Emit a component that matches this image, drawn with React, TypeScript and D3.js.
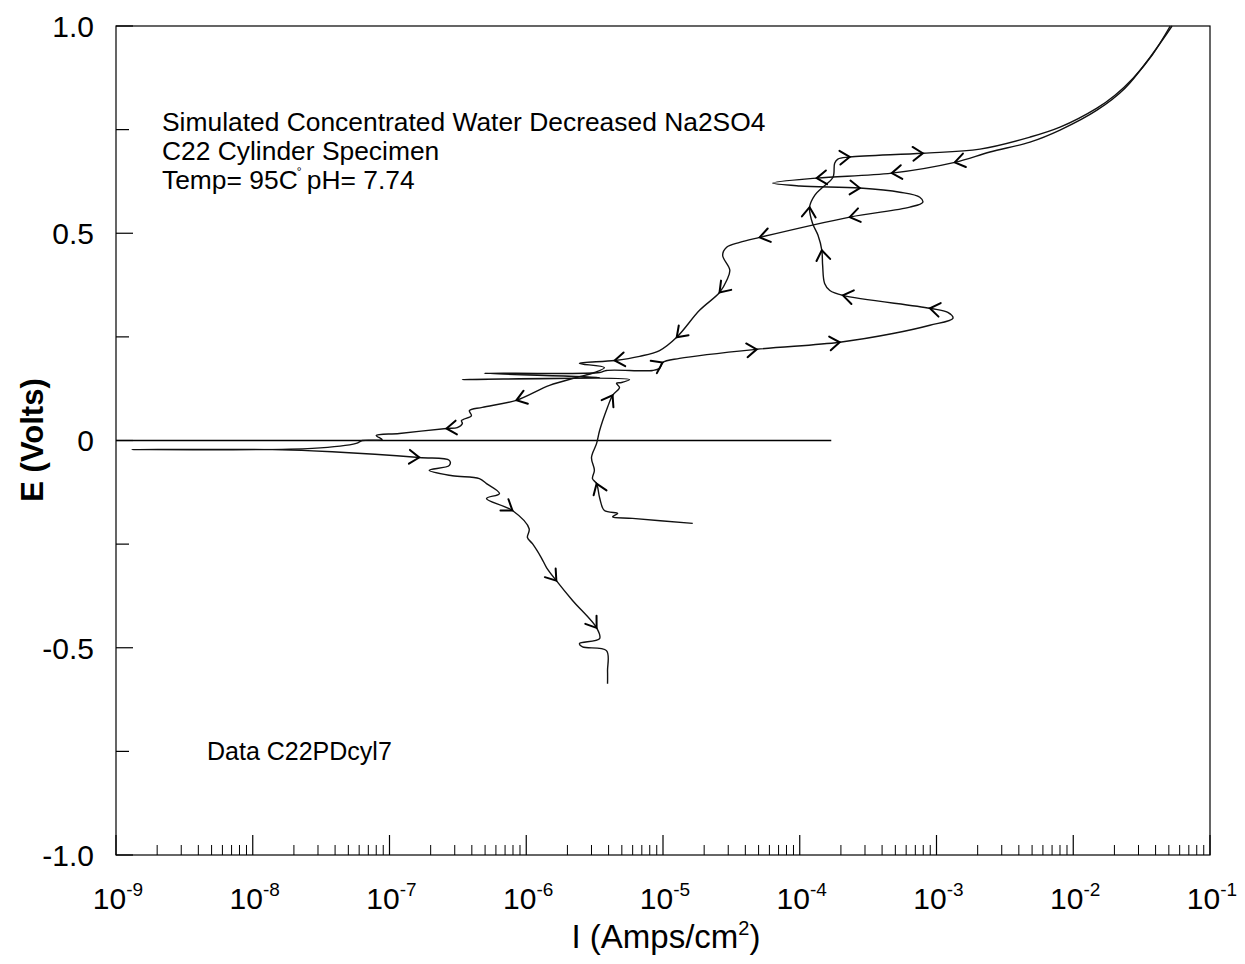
import React from "react";
import * as d3 from "d3";

// ---- data (I in A/cm^2, E in V) ----
const FWD_I = [1.65e-5, 5.98e-6, 4.28e-6, 4.66e-6, 3.73e-6, 3.44e-6, 3.27e-6, 3.05e-6, 3.15e-6, 3.0e-6, 3.27e-6, 3.44e-6, 3.93e-6, 4.28e-6, 4.81e-6, 4.57e-6, 4.98e-6, 5.69e-6, 3.41e-7, 3.44e-6, 4.94e-7, 3.44e-6, 3.86e-6, 8.4e-6, 9.44e-6, 9.93e-6, 1.32e-5, 4.84e-5, 1.96e-4, 4.8e-4, 8.95e-4, 1.32e-3, 1.21e-3, 8.95e-4, 2.07e-4, 1.66e-4, 1.52e-4, 1.47e-4, 1.45e-4, 1.36e-4, 1.24e-4, 1.18e-4, 1.29e-4, 1.45e-4, 1.75e-4, 1.8e-4, 1.9e-4, 2.32e-4, 7.94e-4, 2.08e-3, 4.83e-3, 8.0e-3, 1.49e-2, 2.02e-2, 2.74e-2, 3.78e-2, 5.12e-2];
const FWD_E = [-0.2, -0.188, -0.184, -0.176, -0.169, -0.138, -0.104, -0.092, -0.072, -0.041, -0.007, 0.024, 0.08, 0.109, 0.128, 0.138, 0.14, 0.147, 0.147, 0.152, 0.162, 0.164, 0.169, 0.169, 0.174, 0.188, 0.198, 0.22, 0.237, 0.258, 0.278, 0.295, 0.309, 0.319, 0.35, 0.362, 0.379, 0.423, 0.459, 0.495, 0.524, 0.563, 0.592, 0.609, 0.635, 0.669, 0.679, 0.684, 0.693, 0.703, 0.732, 0.756, 0.802, 0.833, 0.874, 0.93, 1.0];
const REV_I = [5.28e-2, 3.65e-2, 2.39e-2, 1.49e-2, 8.0e-3, 4.83e-3, 2.46e-3, 1.36e-3, 4.71e-4, 1.33e-4, 6.34e-5, 1.0e-4, 2.75e-4, 5.4e-4, 7.55e-4, 7.94e-4, 6.38e-4, 2.32e-4, 5.09e-5, 3.64e-5, 2.92e-5, 2.73e-5, 3.08e-5, 2.92e-5, 2.59e-5, 1.85e-5, 1.26e-5, 9.44e-6, 6.75e-6, 4.43e-6, 2.45e-6, 3.73e-6, 3.15e-6, 2.33e-6, 1.48e-6, 8.47e-7, 4.77e-7, 3.84e-7, 3.97e-7, 3.36e-7, 3.41e-7, 3.13e-7, 2.61e-7, 1.18e-7, 8.0e-8, 8.85e-8, 6.32e-8, 5.71e-8, 2.72e-8, 1.31e-9, 1.39e-8, 3.81e-8, 1.65e-7, 2.74e-7, 2.74e-7, 1.95e-7, 2.88e-7, 4.54e-7, 5.12e-7, 6.37e-7, 5.12e-7, 7.93e-7, 1.05e-6, 1.02e-6, 1.11e-6, 1.29e-6, 1.41e-6, 1.66e-6, 2.18e-6, 3.27e-6, 3.44e-6, 2.45e-6, 2.58e-6, 3.86e-6, 3.93e-6, 3.93e-6];
const REV_E = [1.0, 0.925, 0.85, 0.797, 0.749, 0.72, 0.696, 0.671, 0.645, 0.633, 0.621, 0.614, 0.609, 0.599, 0.587, 0.575, 0.563, 0.539, 0.49, 0.478, 0.466, 0.447, 0.411, 0.386, 0.357, 0.314, 0.249, 0.217, 0.203, 0.193, 0.186, 0.176, 0.164, 0.152, 0.133, 0.097, 0.08, 0.072, 0.06, 0.048, 0.041, 0.031, 0.029, 0.017, 0.012, 0.002, 0.0, -0.007, -0.019, -0.022, -0.022, -0.027, -0.041, -0.048, -0.06, -0.072, -0.085, -0.092, -0.104, -0.128, -0.14, -0.169, -0.213, -0.234, -0.249, -0.283, -0.307, -0.338, -0.386, -0.452, -0.478, -0.49, -0.498, -0.507, -0.556, -0.587];
// indices of points carrying a direction chevron
const FWD_ARROWS = [6, 13, 25, 27, 28, 33, 34, 38, 41, 47, 48];
const REV_ARROWS = [7, 8, 9, 12, 17, 18, 24, 26, 29, 35, 42, 52, 61, 67, 69];

const ZERO_LINE_END = 1.7e-4;
const X_DECADES = [-9, -8, -7, -6, -5, -4, -3, -2, -1];
const Y_TICKS = [-1, -0.75, -0.5, -0.25, 0, 0.25, 0.5, 0.75, 1];
const Y_LABELS: Record<string, string> = { "-1": "-1.0", "-0.5": "-0.5", "0": "0", "0.5": "0.5", "1": "1.0" };
const NOTE_LINES = ["Simulated Concentrated Water Decreased Na2SO4", "C22 Cylinder Specimen"];
const DATA_NOTE = "Data C22PDcyl7";

const W = 1245;
const H = 964;
const FONT = "Arial, 'Liberation Sans', Helvetica, sans-serif";

export default function App() {
  const x = d3.scaleLog().domain([1e-9, 1e-1]).range([116, 1210]);
  const y = d3.scaleLinear().domain([-1, 1]).range([855, 26]);
  const line = d3
    .line<[number, number]>()
    .x((d) => x(d[0]))
    .y((d) => y(d[1]))
    .curve(d3.curveCatmullRom.alpha(0.5));

  const fwd: [number, number][] = FWD_I.map((v, i) => [v, FWD_E[i]]);
  const rev: [number, number][] = REV_I.map((v, i) => [v, REV_E[i]]);

  const chevron = (pts: [number, number][], k: number) => {
    const p = pts[k];
    const a = pts[Math.max(0, k - 1)];
    const b = pts[Math.min(pts.length - 1, k + 1)];
    const px = x(p[0]), py = y(p[1]);
    let dx = x(b[0]) - x(a[0]);
    let dy = y(b[1]) - y(a[1]);
    const len = Math.hypot(dx, dy) || 1;
    dx /= len; dy /= len;
    const L = 12, ang = (35 * Math.PI) / 180;
    const rot = (t: number) => [dx * Math.cos(t) - dy * Math.sin(t), dx * Math.sin(t) + dy * Math.cos(t)];
    const r1 = rot(ang), r2 = rot(-ang);
    return `M${px - L * r1[0]},${py - L * r1[1]}L${px},${py}L${px - L * r2[0]},${py - L * r2[1]}`;
  };

  const minors: number[] = [];
  X_DECADES.slice(0, -1).forEach((e) => {
    for (let m = 2; m <= 9; m++) minors.push(m * Math.pow(10, e));
  });

  const x0 = x(1e-9), x1 = x(1e-1), yT = y(1), yB = y(-1);

  return (
    <svg width={W} height={H} style={{ position: "absolute", left: 0, top: 0, background: "#fff" }} fontFamily={FONT}>
      <rect x={0} y={0} width={W} height={H} fill="#fff" />
      {/* frame */}
      <rect x={x0} y={yT} width={x1 - x0} height={yB - yT} fill="none" stroke="#000" strokeWidth={1.2} />
      {/* y ticks */}
      {Y_TICKS.map((t) => {
        const lab = Y_LABELS[String(t)];
        return (
          <g key={"y" + t}>
            <line x1={x0} x2={x0 + (lab ? 17 : 13)} y1={y(t)} y2={y(t)} stroke="#000" strokeWidth={1.2} />
            {lab && (
              <text x={94} y={y(t)} dy="0.36em" textAnchor="end" fontSize={30}>
                {lab}
              </text>
            )}
          </g>
        );
      })}
      {/* x ticks */}
      {minors.map((v, i) => (
        <line key={"m" + i} x1={x(v)} x2={x(v)} y1={yB} y2={yB - 10} stroke="#000" strokeWidth={1} />
      ))}
      {X_DECADES.map((e) => (
        <g key={"x" + e}>
          <line x1={x(Math.pow(10, e))} x2={x(Math.pow(10, e))} y1={yB} y2={yB - 20} stroke="#000" strokeWidth={1.2} />
          <text x={x(Math.pow(10, e)) + 2} y={909} textAnchor="middle" fontSize={30}>
            10
            <tspan dy={-13} fontSize={19}>
              {String(e)}
            </tspan>
          </text>
        </g>
      ))}
      {/* axis titles */}
      <text x={666} y={948} textAnchor="middle" fontSize={33}>
        I (Amps/cm
        <tspan dy={-13} fontSize={20}>2</tspan>
        <tspan dy={13}>)</tspan>
      </text>
      <text transform={`translate(43,440) rotate(-90)`} textAnchor="middle" fontSize={31} fontWeight="bold">
        E (Volts)
      </text>
      {/* zero reference */}
      <line x1={x0} x2={x(ZERO_LINE_END)} y1={y(0)} y2={y(0)} stroke="#000" strokeWidth={1.3} />
      {/* curves */}
      <path d={line(fwd) || ""} fill="none" stroke="#111" strokeWidth={1.4} strokeLinejoin="round" />
      <path d={line(rev) || ""} fill="none" stroke="#111" strokeWidth={1.4} strokeLinejoin="round" />
      {FWD_ARROWS.map((k) => (
        <path key={"fa" + k} d={chevron(fwd, k)} fill="none" stroke="#000" strokeWidth={2} strokeLinecap="round" />
      ))}
      {REV_ARROWS.map((k) => (
        <path key={"ra" + k} d={chevron(rev, k)} fill="none" stroke="#000" strokeWidth={2} strokeLinecap="round" />
      ))}
      {/* annotations */}
      {NOTE_LINES.map((s, i) => (
        <text key={"n" + i} x={162} y={131 + i * 29} fontSize={26.4}>
          {s}
        </text>
      ))}
      <text x={162} y={189} fontSize={26.4}>
        Temp= 95C
        <tspan dx={-1} dy={-13} fontSize={12}>°</tspan>
        <tspan dx={-2} dy={13}>{" pH= 7.74"}</tspan>
      </text>
      <text x={207} y={760} fontSize={25}>
        {DATA_NOTE}
      </text>
    </svg>
  );
}
